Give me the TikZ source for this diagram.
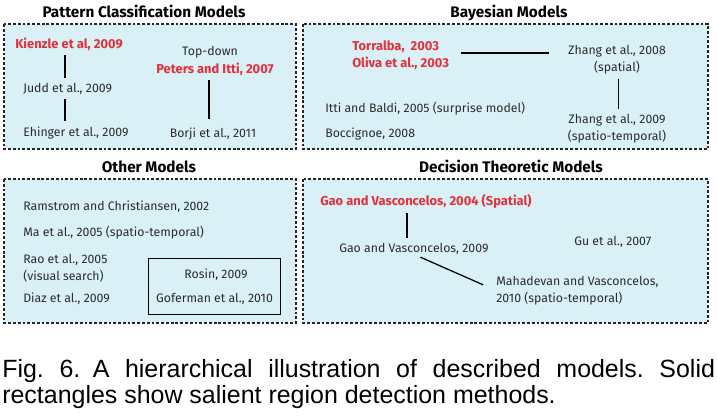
\documentclass[tikz,border=0pt]{standalone}
\usepackage{fontspec}
\setmainfont{Fira Sans}
\newfontfamily\capfont{Liberation Sans}
\usetikzlibrary{positioning,fit}
\definecolor{BoxFill}{HTML}{DAF0F7}
\definecolor{HiRed}{HTML}{E3303B}
\definecolor{TxtGray}{HTML}{2B2B2B}
\tikzset{
  mdlbox/.style={draw=black!85, fill=BoxFill, line width=0.8pt, dash pattern=on 2pt off 1.4pt},
  mdltitle/.style={font=\fontsize{10.9}{13}\selectfont\bfseries, inner sep=0pt, anchor=base},
  mdltxt/.style={font=\fontsize{8.75}{11.7}\selectfont, text=TxtGray, inner sep=0pt, anchor=base west},
  mdlred/.style={mdltxt, font=\fontsize{9.2}{11.7}\selectfont\bfseries, text=HiRed},
  mdllink/.style={line width=0.9pt, shorten <=3.5pt, shorten >=3.5pt},
  salbox/.style={draw, line width=0.8pt, inner xsep=5pt, inner ysep=7pt}
}

\begin{document}
\begin{tikzpicture}[x=0.7113pt, y=-0.7113pt]
\useasboundingbox (0,0) rectangle (717,416);
% model regions
\draw[mdlbox] (4,24) rectangle (296,149);
\draw[mdlbox] (303,24) rectangle (708,149);
\draw[mdlbox] (4,179) rectangle (296,323);
\draw[mdlbox] (303,179) rectangle (708,323);
\node[mdltitle] (pct) at (144,17) {Pattern Classification Models};
\node[mdltitle] (bayt) at (509,17) {Bayesian Models};
\node[mdltitle] (otht) at (149,172) {Other Models};
\node[mdltitle] (dect) at (511,172) {Decision Theoretic Models};
% pattern classification
\node[mdlred] (kienzle) at (15,48) {Kienzle et al, 2009};
\node[mdltxt] (judd) at (23,92) {Judd et al., 2009};
\node[mdltxt] (ehinger) at (23,136) {Ehinger et al., 2009};
\node[mdltxt, anchor=base] (topdown) at (210,55) {Top-down};
\node[mdlred, anchor=base] (peters) at (215,73) {Peters and Itti, 2007};
\node[mdltxt, anchor=base] (borji) at (213,137) {Borji et al., 2011};
\draw[mdllink] ([xshift=-2.8pt]kienzle.south) -- ([xshift=-2.8pt]kienzle.south |- judd.north);
\draw[mdllink] ([xshift=-2.8pt]kienzle.south |- judd.south) -- ([xshift=-2.8pt]kienzle.south |- ehinger.north);
\draw[mdllink, shorten >=6pt] ([xshift=-4.3pt]peters.south) -- ([xshift=-4.3pt]peters.south |- borji.north);
% bayesian
\node[mdlred, align=left] (tor) at (352,67) {Torralba,~ 2003\\Oliva et al., 2003};
\node[mdltxt, align=center, anchor=base] (zh08) at (617,71) {Zhang et al., 2008\\(spatial)};
\node[mdltxt] (itti) at (325,112) {Itti and Baldi, 2005 (surprise model)};
\node[mdltxt] (bocc) at (325,137) {Boccignoe, 2008};
\node[mdltxt, align=center, anchor=base] (zh09) at (617,140) {Zhang et al., 2009\\(spatio-temporal)};
\draw[mdllink, shorten <=8.5pt, shorten >=13.5pt] ([yshift=1.4pt]tor.east) -- ([yshift=1.4pt]tor.east -| zh08.west);
\draw[mdllink] ([xshift=1pt]zh08.south) -- ([xshift=1pt]zh08.south |- zh09.north);
% other
\node[mdltxt] (ram) at (23,210) {Ramstrom and Christiansen, 2002};
\node[mdltxt] (ma) at (23,236) {Ma et al., 2005 (spatio-temporal)};
\node[mdltxt, align=left] (rao) at (23,280) {Rao et al., 2005\\(visual search)};
\node[mdltxt] (diaz) at (23,302) {Diaz et al., 2009};
\node[mdltxt, anchor=base] (rosin) at (216,278) {Rosin, 2009};
\node[mdltxt, anchor=base] (gof) at (214.5,302) {Goferman et al., 2010};
\node[salbox, fit=(rosin)(gof)] (salient) {};
% decision theoretic
\node[mdlred] (gao04) at (320,205) {Gao and Vasconcelos, 2004 (Spatial)};
\node[mdltxt] (gao09) at (339,252) {Gao and Vasconcelos, 2009};
\node[mdltxt] (gu) at (574,245) {Gu et al., 2007};
\node[mdltxt, align=left] (mahad) at (496,302) {Mahadevan and Vasconcelos,\\2010 (spatio-temporal)};
\draw[mdllink] ([xshift=-5pt]gao09.north |- gao04.south) -- ([xshift=-5pt]gao09.north);
\draw[mdllink, shorten <=5pt, shorten >=10pt] (gao09.south) -- (mahad.west);
% caption
\node[font=\capfont\fontsize{17.75}{19}\selectfont\frenchspacing, text width=507pt, align=justify,
      inner sep=0pt, anchor=base west] (cap) at (2,377)
  {Fig.~6.\enspace A hierarchical illustration of described models. Solid\linebreak rectangles show salient region detection methods.};
\end{tikzpicture}
\end{document}
